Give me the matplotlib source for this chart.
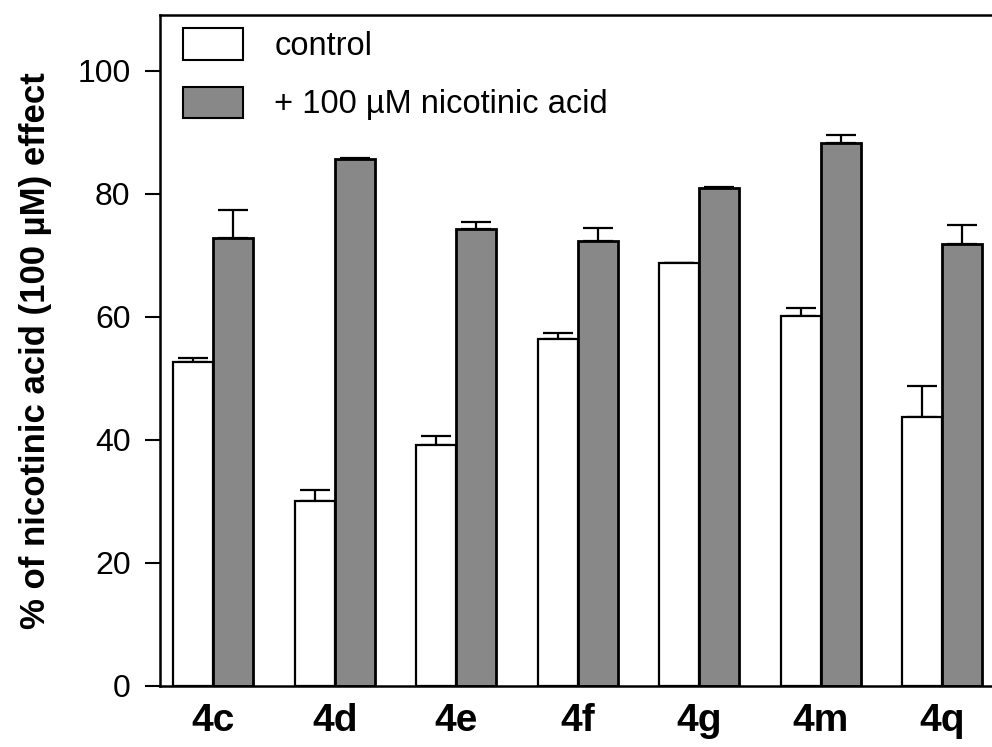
import matplotlib
matplotlib.use('Agg')
import matplotlib.pyplot as plt
import numpy as np

plt.rcParams['font.family'] = ['Liberation Sans', 'DejaVu Sans']

compounds = ['4c', '4d', '4e', '4f', '4g', '4m', '4q']
control = [52.6, 30.1, 39.2, 56.4, 68.8, 60.2, 43.7]
control_err = [0.8, 1.8, 1.5, 1.0, 0.0, 1.3, 5.1]
treated = [72.9, 85.6, 74.3, 72.4, 81.0, 88.3, 71.8]
treated_err = [4.5, 0.3, 1.1, 2.1, 0.2, 1.3, 3.2]

x = np.arange(len(compounds))
w = 0.33

fig = plt.figure(figsize=(9.92, 7.47), dpi=100)
ax = fig.add_axes([0.161, 0.0817, 0.839, 0.8983])

ax.bar(x - w/2, control, w, color='white', edgecolor='black', linewidth=1.6,
       label='control', zorder=2)
ax.bar(x + w/2, treated, w, color='#888888', edgecolor='black', linewidth=2.0,
       label='+ 100 µM nicotinic acid', zorder=2)

ax.errorbar(x - w/2, control, yerr=[np.zeros(len(x)), control_err], fmt='none',
            ecolor='black', elinewidth=1.6, capsize=11, capthick=1.6, zorder=1)
ax.errorbar(x + w/2, treated, yerr=[np.zeros(len(x)), treated_err], fmt='none',
            ecolor='black', elinewidth=1.6, capsize=11, capthick=1.6, zorder=1)

ax.set_xlim(-0.44, 6.41)
ax.set_ylim(0, 109.1)
ax.set_yticks([0, 20, 40, 60, 80, 100])
ax.set_xticks(x)
ax.set_xticklabels(compounds, fontsize=28, fontweight='bold')
ax.tick_params(axis='x', length=0, pad=12)
ax.tick_params(axis='y', labelsize=23, length=11, width=1.5, pad=10)

for s in ['left', 'bottom', 'top']:
    ax.spines[s].set_linewidth(1.8)
ax.spines['right'].set_visible(False)

ax.set_ylabel('% of nicotinic acid (100 µM) effect', fontsize=25,
              fontweight='bold', labelpad=18)

leg = ax.legend(loc='upper left', bbox_to_anchor=(0.028, 0.98), frameon=False,
                fontsize=23.5, handlelength=1.85, handleheight=1.1,
                handletextpad=0.95, labelspacing=0.75, borderpad=0,
                borderaxespad=0)
for p in leg.get_patches():
    p.set_linewidth(1.5)

fig.savefig('out.png', dpi=100)
